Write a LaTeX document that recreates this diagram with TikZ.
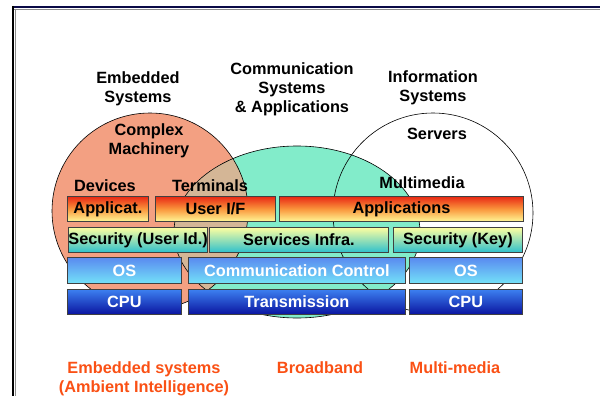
\documentclass[tikz,border=0pt]{standalone}
\usepackage{fontspec}
\setmainfont{Liberation Sans}
\usetikzlibrary{positioning}

\definecolor{salmon}{RGB}{243,160,130}
\definecolor{aqua}{RGB}{130,236,202}
\definecolor{mixed}{RGB}{212,182,150}
\definecolor{framenavy}{RGB}{10,10,70}
\definecolor{apptop}{RGB}{232,40,20}
\definecolor{appmid}{RGB}{250,150,60}
\definecolor{appbot}{RGB}{255,248,150}
\definecolor{sectop}{RGB}{255,255,160}
\definecolor{secbot}{RGB}{45,192,205}
\definecolor{ostop}{RGB}{90,138,240}
\definecolor{osbot}{RGB}{115,225,248}
\definecolor{cputop}{RGB}{60,128,240}
\definecolor{cpubot}{RGB}{10,20,160}
\definecolor{tagorange}{RGB}{250,80,20}

\begin{document}
\begin{tikzpicture}[x=1pt, y=-1pt, font=\fontsize{16.3}{19}\selectfont\bfseries,
  lbl/.style={align=center, inner sep=0pt},
  tag/.style={lbl, text=tagorange},
  layer/.style={draw=black!75, line width=0.8pt, inner sep=0pt, minimum height=25pt, anchor=north west},
  approw/.style={layer, top color=apptop, bottom color=appbot, middle color=appmid},
  secrow/.style={layer, top color=sectop, bottom color=secbot},
  osrow/.style={layer, top color=ostop, bottom color=osbot, text=white, minimum height=26pt},
  cpurow/.style={layer, top color=cputop, bottom color=cpubot, text=white}]
\useasboundingbox (0,0) rectangle (600,396);

% frame
\draw[framenavy, line width=2.6pt] (12,7) -- (600,7);
\draw[black!45, line width=1pt] (14,9.3) -- (600,9.3);
\draw[black, line width=2.4pt] (13,6) -- (13,396);
\draw[black!45, line width=1pt] (15,9) -- (15,396);

% domains
\fill[salmon] (150,211) circle (98);
\fill[aqua] (297,232) ellipse [x radius=123, y radius=86];
\begin{scope}
  \clip (150,211) circle (98);
  \fill[mixed] (297,232) ellipse [x radius=123, y radius=86];
\end{scope}
\draw[line width=0.6pt] (150,211) circle (98);
\draw[line width=0.6pt] (297,232) ellipse [x radius=123, y radius=86];
\draw[line width=0.6pt] (433,213) circle (100);

% titles
\node[lbl] (embedded) at (138,89) {Embedded\\Systems};
\node[lbl] (commsys) at (292,89) {Communication\\Systems\\\& Applications};
\node[lbl] (infosys) at (433,88) {Information\\Systems};
\node[lbl] (machinery) at (149,141) {Complex\\Machinery};
\node[lbl] (servers) at (437,134) {Servers};
\node[lbl] (devices) at (105,186) {Devices};
\node[lbl] (terminals) at (210,186) {Terminals};
\node[lbl] (multimedia) at (422,183) {Multimedia};

% layers
\node[approw, minimum width=81pt] (applicat) at (67,196) {Applicat.};
\node[approw, minimum width=120pt] (userif) at (155,196) {User I/F};
\node[approw, minimum width=244pt] (applications) at (279,196) {Applications};

\node[secrow, minimum width=136pt] (secuser) at (68,227) {Security (User Id.)};
\node[secrow, minimum width=179pt] (servinfra) at (209,227) {Services Infra.};
\node[secrow, minimum width=129pt] (seckey) at (393,227) {Security (Key)};

\node[osrow, minimum width=114pt] (osleft) at (67,257) {OS};
\node[osrow, minimum width=217pt] (commctrl) at (188,257) {Communication Control};
\node[osrow, minimum width=113pt] (osright) at (409,257) {OS};

\node[cpurow, minimum width=114pt] (cpuleft) at (67,289) {CPU};
\node[cpurow, minimum width=217pt] (transmission) at (188,289) {Transmission};
\node[cpurow, minimum width=113pt] (cpuright) at (409,289) {CPU};

% markets
\node[tag] (ambient) at (144,379) {Embedded systems\\(Ambient Intelligence)};
\node[tag] (broadband) at (320,368) {Broadband};
\node[tag] (multimedia2) at (455,368) {Multi-media};
\end{tikzpicture}
\end{document}
